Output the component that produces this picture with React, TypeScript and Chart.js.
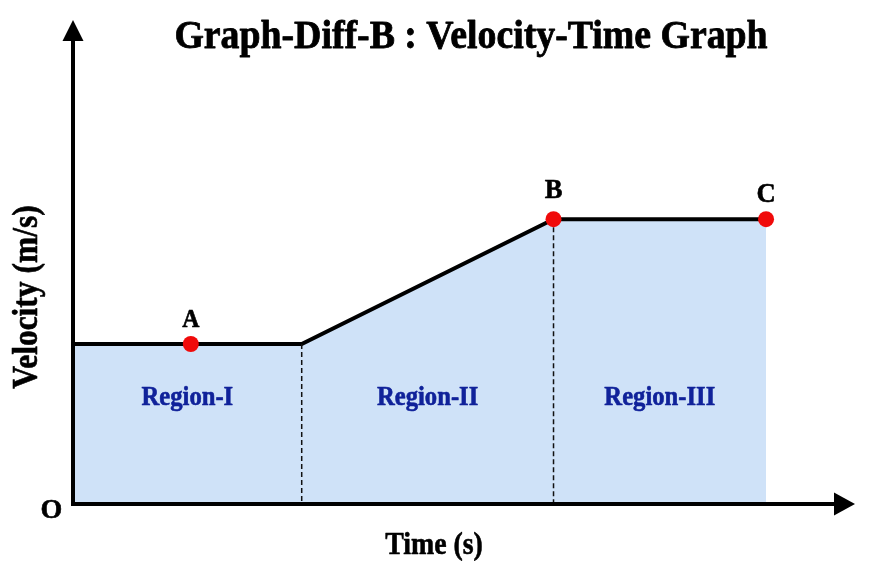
import React, { useEffect, useRef } from "react";
import { Chart, registerables } from "chart.js";

Chart.register(...registerables);

// ---- data ----
const titleText = "Graph-Diff-B : Velocity-Time Graph";
const xAxisTitle = "Time (s)";
const yAxisTitle = "Velocity (m/s)";
const originLabel = "O";
const pathTimes = [0, 9.9, 20.8, 30];
const pathVelocities = [5, 5, 8.9, 8.9];
const markerNames = ["A", "B", "C"];
const markerTimes = [5.1, 20.8, 30];
const markerVelocities = [5, 8.9, 8.9];
const regionNames = ["Region-I", "Region-II", "Region-III"];
const regionBounds = [0, 9.9, 20.8, 30];
const xMax = 33.85;
const yMax = 15.125;

const SERIF = '"Liberation Serif", "DejaVu Serif", serif';

function drawText(
  ctx: CanvasRenderingContext2D,
  text: string,
  x: number,
  y: number,
  size: number,
  color: string,
  sx: number,
  rot = 0,
  baseline: CanvasTextBaseline = "alphabetic",
  stroke = 0.6
) {
  ctx.save();
  ctx.translate(x, y);
  if (rot) ctx.rotate(rot);
  ctx.scale(sx, 1);
  ctx.font = `bold ${size}px ${SERIF}`;
  ctx.fillStyle = color;
  ctx.strokeStyle = color;
  ctx.lineWidth = stroke;
  ctx.lineJoin = "round";
  ctx.textAlign = "center";
  ctx.textBaseline = baseline;
  ctx.fillText(text, 0, 0);
  if (stroke > 0) ctx.strokeText(text, 0, 0);
  ctx.restore();
}

const decorPlugin = {
  id: "decor",
  afterDatasetsDraw(chart: any) {
    const ctx: CanvasRenderingContext2D = chart.ctx;
    const { left, right, top, bottom } = chart.chartArea;
    const xs = chart.scales.x;
    const ys = chart.scales.y;

    // axes
    ctx.save();
    ctx.strokeStyle = "#000";
    ctx.fillStyle = "#000";
    ctx.lineWidth = 4;
    ctx.lineCap = "butt";
    ctx.beginPath();
    ctx.moveTo(left, bottom + 2);
    ctx.lineTo(left, top + 12);
    ctx.moveTo(left - 2, bottom);
    ctx.lineTo(right - 12, bottom);
    ctx.stroke();
    // y arrow
    ctx.beginPath();
    ctx.moveTo(left, top);
    ctx.lineTo(left - 10.5, top + 21);
    ctx.lineTo(left + 10.5, top + 21);
    ctx.closePath();
    ctx.fill();
    // x arrow
    ctx.beginPath();
    ctx.moveTo(right, bottom);
    ctx.lineTo(right - 21, bottom - 11.5);
    ctx.lineTo(right - 21, bottom + 11.5);
    ctx.closePath();
    ctx.fill();
    ctx.restore();

    // title & axis titles
    drawText(ctx, titleText, 471, 48, 40, "#000", 0.945, 0, "alphabetic", 0.8);
    drawText(ctx, xAxisTitle, 434, 554, 32, "#000", 0.87);
    drawText(ctx, yAxisTitle, 28, 297, 35, "#000", 0.9, -Math.PI / 2, "middle");
    drawText(ctx, originLabel, 51.5, 518, 28, "#000", 1);

    // marker labels
    markerNames.forEach((n, i) => {
      const px = xs.getPixelForValue(markerTimes[i]);
      const py = ys.getPixelForValue(markerVelocities[i]);
      const size = i === 0 ? 25 : 28;
      const off = i === 0 ? 17 : i === 1 ? 21 : 17;
      drawText(ctx, n, px, py - off, size, "#000", 0.95);
    });

    // region labels
    regionNames.forEach((n, i) => {
      const cx = (xs.getPixelForValue(regionBounds[i]) + xs.getPixelForValue(regionBounds[i + 1])) / 2;
      drawText(ctx, n, cx, 405, 28, "#10229a", 0.88);
    });
  },
};

export default function App() {
  const ref = useRef<HTMLCanvasElement | null>(null);
  useEffect(() => {
    if (!ref.current) return;
    const path = pathTimes.map((t, i) => ({ x: t, y: pathVelocities[i] }));
    const markers = markerTimes.map((t, i) => ({ x: t, y: markerVelocities[i] }));
    const dash1 = [
      { x: regionBounds[1], y: pathVelocities[1] },
      { x: regionBounds[1], y: 0 },
    ];
    const dash2 = [
      { x: regionBounds[2], y: pathVelocities[2] },
      { x: regionBounds[2], y: 0 },
    ];
    const chart = new Chart(ref.current, {
      type: "line",
      data: {
        datasets: [
          {
            data: markers,
            showLine: false,
            pointRadius: 8,
            pointBackgroundColor: "#f00a0a",
            pointBorderWidth: 0,
            borderColor: "#f00a0a",
            order: 0,
          } as any,
          {
            data: dash1,
            borderColor: "#111",
            borderWidth: 1.5,
            borderDash: [5, 3],
            pointRadius: 0,
            fill: false,
            order: 1,
          },
          {
            data: dash2,
            borderColor: "#111",
            borderWidth: 1.5,
            borderDash: [5, 3],
            pointRadius: 0,
            fill: false,
            order: 1,
          },
          {
            data: path,
            borderColor: "#000",
            borderWidth: 4,
            pointRadius: 0,
            fill: "origin",
            backgroundColor: "rgb(207,226,248)",
            tension: 0,
            order: 2,
          },
        ],
      },
      options: {
        animation: false,
        responsive: false,
        devicePixelRatio: 1,
        layout: { padding: { left: 73, top: 20, right: 22, bottom: 81 } },
        plugins: { legend: { display: false }, tooltip: { enabled: false }, title: { display: false } },
        scales: {
          x: { type: "linear", min: 0, max: xMax, display: false },
          y: { type: "linear", min: 0, max: yMax, display: false },
        },
        events: [],
      },
      plugins: [decorPlugin],
    });
    return () => chart.destroy();
  }, []);
  return (
    <div style={{ position: "absolute", left: 0, top: 0, width: 877, height: 585, background: "#fff" }}>
      <canvas ref={ref} width={877} height={585} style={{ width: 877, height: 585, display: "block" }} />
    </div>
  );
}
